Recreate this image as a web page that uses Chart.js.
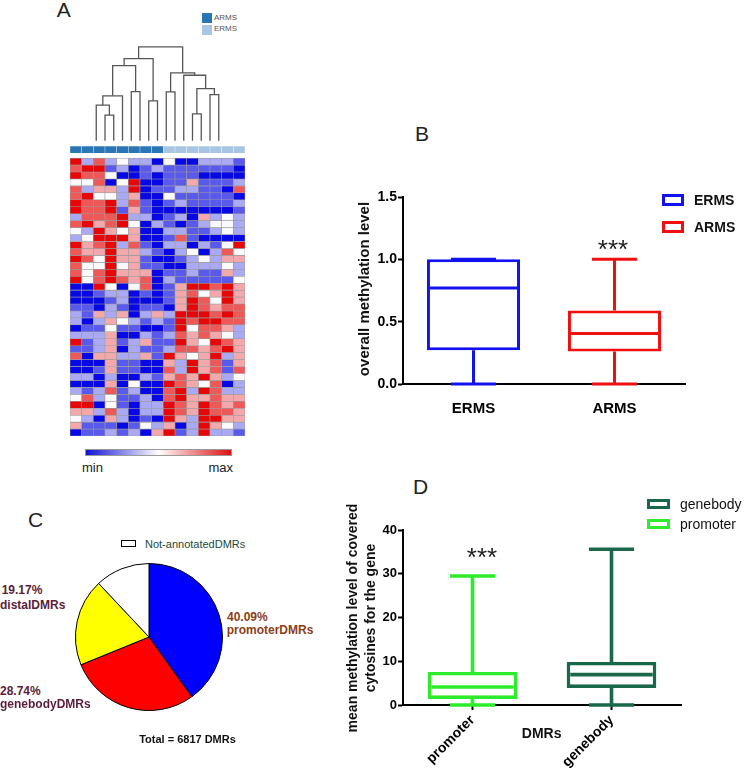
<!DOCTYPE html>
<html>
<head>
<meta charset="utf-8">
<script src="https://cdn.jsdelivr.net/npm/chart.js@4.4.1/dist/chart.umd.min.js"></script>
<style>
body{margin:0;background:#fff;width:745px;height:772px;position:relative;overflow:hidden;font-family:"Liberation Sans",Arial,sans-serif}
canvas{position:absolute}
.t{position:absolute;white-space:nowrap;line-height:1}
.box{position:absolute;box-sizing:border-box;background:#fff}
</style>
</head>
<body>
<canvas id="heat" width="185" height="396" style="left:65px;top:40px"></canvas>
<canvas id="boxB" width="332" height="227" style="left:358px;top:187px"></canvas>
<canvas id="pieC" width="150" height="150" style="left:74px;top:562px"></canvas>
<canvas id="boxD" width="328" height="252" style="left:358px;top:520px"></canvas>
<div class="box" style="left:85px;top:449px;width:147px;height:7px;border:1px solid #999;background:linear-gradient(to right,#1212d2,#ffffff,#de1010)"></div>
<script>
// ---- panel A: heatmap (15 samples x 40 DMRs, -3 = min ... 3 = max) ----
const heatColumns = ['S1','S2','S3','S4','S5','S6','S7','S8','S9','S10','S11','S12','S13','S14','S15'];
const sampleGroups = ['ARMS','ARMS','ARMS','ARMS','ARMS','ARMS','ARMS','ARMS','ERMS','ERMS','ERMS','ERMS','ERMS','ERMS','ERMS'];
const heatRows = [
  [3,-1,2,-1,0,-1,-1,-3,0,-3,-3,-1,-1,-1,-2],
  [2,3,3,-2,-1,-3,-2,-1,-2,-2,-2,-2,-2,-2,-3],
  [3,2,2,0,-3,-3,-2,-3,-2,-2,-2,-3,-3,-3,-3],
  [0,0,2,-3,0,3,-3,-3,-2,-2,1,-2,-2,-2,-1],
  [2,-1,1,1,-1,3,-3,-2,-2,-1,-1,-2,-2,-3,2],
  [2,3,0,0,-1,1,-3,-3,0,-2,-2,-2,-2,-2,-3],
  [3,2,2,3,-1,2,-2,-3,-2,-1,-2,-2,-2,-2,-1],
  [3,2,2,3,-2,1,-2,-3,-3,-3,-3,-3,-3,-3,-2],
  [-1,2,2,2,3,-1,-1,-3,-2,-1,-3,1,-1,0,-1],
  [2,3,1,2,3,0,-3,-1,-2,-3,-2,-1,0,0,-1],
  [0,-1,3,1,0,1,-3,-3,-1,-1,-2,-2,-1,0,-1],
  [-1,0,3,3,3,1,-3,-3,-2,2,-2,-3,-3,-3,-3],
  [3,1,2,3,-1,2,-2,-3,-1,-1,-3,-1,-2,0,3],
  [2,1,1,3,1,1,-1,-2,-3,-1,0,-3,-1,2,0],
  [3,2,0,3,1,1,-2,-3,-3,-2,-1,0,-1,1,1],
  [2,0,0,3,0,1,-2,-2,-3,-3,-1,-1,-1,0,-1],
  [2,0,2,3,1,1,1,-3,-2,-2,-1,-2,-2,1,-1],
  [3,0,2,3,2,1,2,-3,-1,-2,-2,-2,-2,-2,0],
  [-3,-3,3,0,-3,0,2,-3,-2,1,3,3,2,3,1],
  [-3,-3,-2,-1,-1,-3,-2,-3,-2,1,2,0,1,3,1],
  [-3,-3,-3,-2,-1,-3,-3,-3,-2,1,3,2,0,3,1],
  [-2,-2,-3,-1,-2,-3,-2,-2,-3,1,3,2,1,2,2],
  [-1,-2,1,-1,1,-3,-1,1,-1,3,3,3,2,3,2],
  [-1,-3,-1,1,0,-1,-2,-1,-2,3,2,3,3,2,2],
  [-3,-2,-2,0,-2,-2,-3,-3,-2,3,0,2,2,1,-1],
  [-1,-1,-1,1,-3,-3,-1,-2,-1,2,1,2,1,0,-1],
  [3,-2,-1,1,-2,-1,1,-2,-2,3,1,0,3,2,1],
  [-2,-2,-1,1,-3,-1,-2,-2,-1,2,2,1,2,3,1],
  [2,-3,1,1,-1,-1,1,-2,3,1,0,1,3,-1,1],
  [-3,-3,-3,1,-2,-2,-3,-3,1,-1,3,1,2,-2,1],
  [-3,-3,-2,1,-2,-2,-3,-3,2,-1,3,1,2,-2,2],
  [-1,-1,-3,-1,-3,-3,-1,-2,1,2,1,3,1,-1,0],
  [-3,-3,-3,1,-3,0,-3,-3,3,2,1,0,2,-3,-1],
  [-1,-2,-1,2,-2,-1,-3,-3,2,3,-1,3,2,-1,-1],
  [0,2,-1,0,-2,-2,-1,-3,2,3,1,1,2,1,1],
  [3,3,-3,0,-2,-3,-1,-1,3,2,1,3,2,1,2],
  [1,1,-1,2,-1,-3,-1,-1,3,2,1,3,2,2,1],
  [0,-1,-3,1,-1,-3,-2,-3,3,1,-1,3,3,1,1],
  [1,-2,-2,-2,-3,-2,0,-1,1,-3,-1,3,1,0,-1],
  [-3,-2,-2,-1,-2,-1,-3,1,3,-2,-1,3,-1,-1,-2]
];
// dendrogram merges: [nodeA, nodeB, height]; leaves are 0..14, merges numbered 15.. in order
const dendroMerges = [
  [1,2,77],[0,15,107],[16,3,135],[4,5,148],[17,18,226],[6,7,120],[19,20,247],
  [8,9,147],[11,12,81],[13,14,139],[23,24,157],[10,25,197],[22,26,204],[21,27,282]
];

// ---- panel B ----
const boxBCategories = ['ERMS','ARMS'];
const boxBMin = [0, 0];
const boxBQ1 = [0.27, 0.26];
const boxBMedian = [0.77, 0.405];
const boxBQ3 = [1.0, 0.59];
const boxBMax = [1.0, 1.0];
const boxBTicks = [0, 0.5, 1.0, 1.5];

// ---- panel C ----
const pieLabels = ['promoterDMRs','genebodyDMRs','distalDMRs','Not-annotatedDMRs'];
const piePercent = [40.09, 28.74, 19.17, 12.00];
const pieTotal = 6817;

// ---- panel D ----
const boxDCategories = ['promoter','genebody'];
const boxDMin = [0, 0];
const boxDQ1 = [1.4, 3.9];
const boxDMedian = [4.1, 6.95];
const boxDQ3 = [7.55, 9.85];
const boxDMax = [29.5, 35.6];
const boxDTicks = [0, 10, 20, 30, 40];

const FONT = '"Liberation Sans", Arial, sans-serif';

function label(text, x, y, o) {
  o = o || {};
  const d = document.createElement('div');
  d.className = 't';
  d.textContent = text;
  const s = o.size || 14;
  d.style.fontSize = s + 'px';
  d.style.fontWeight = o.weight || 'normal';
  d.style.color = o.color || '#111';
  if (o.spacing) d.style.letterSpacing = o.spacing + 'px';
  d.style.left = x + 'px';
  d.style.top = y + 'px';
  const tx = o.align === 'center' ? '-50%' : o.align === 'right' ? '-100%' : '0';
  d.style.transform = `translate(${tx},-50%)` + (o.rotate ? ` rotate(${o.rotate}deg)` : '');
  document.body.appendChild(d);
  return d;
}
function legendBox(x, y, w, h, color, bw) {
  const d = document.createElement('div');
  d.className = 'box';
  Object.assign(d.style, {left: x + 'px', top: y + 'px', width: w + 'px', height: h + 'px', border: bw + 'px solid ' + color});
  document.body.appendChild(d);
}

Chart.defaults.font.family = FONT;
Chart.defaults.animation = false;
Chart.defaults.responsive = false;
Chart.defaults.events = [];
Chart.defaults.plugins.legend.display = false;
Chart.defaults.plugins.tooltip.enabled = false;

// ---------- A ----------
function heatColor(v) {
  const t = Math.max(-1, Math.min(1, v / 3));
  const w = [250, 250, 252];
  const end = t < 0 ? [8, 8, 228] : [230, 8, 8];
  const a = Math.abs(t);
  return 'rgb(' + w.map((c, i) => Math.round(c + (end[i] - c) * a)).join(',') + ')';
}
const nRows = heatRows.length;
const dendBase = nRows + 2.49, dendTop = nRows + 16;
const heatSets = heatRows.map((row, r) => ({
  type: 'bar',
  data: row.map(() => [nRows - 1 - r, nRows - r]),
  backgroundColor: row.map(heatColor),
  borderColor: '#9c9c9c', borderWidth: 0.6, borderSkipped: false,
  grouped: false, barPercentage: 1, categoryPercentage: 1
}));
heatSets.push({
  type: 'bar',
  data: heatColumns.map(() => [nRows + 0.72, nRows + 1.72]),
  backgroundColor: sampleGroups.map(g => g === 'ARMS' ? '#2a76b4' : '#a8c6e4'),
  borderColor: 'rgba(255,255,255,0.45)', borderWidth: 0.5, borderSkipped: false,
  grouped: false, barPercentage: 1, categoryPercentage: 1
});
const maxH = Math.max(...dendroMerges.map(m => m[2]));
const nodeX = heatColumns.map((c, i) => i), nodeH = heatColumns.map(() => 0);
dendroMerges.forEach(([a, b, h]) => { nodeX.push((nodeX[a] + nodeX[b]) / 2); nodeH.push(h); });
const hy = h => dendBase + h / maxH * (dendTop - dendBase);
dendroMerges.forEach(([a, b, h]) => heatSets.push({
  type: 'scatter', xAxisID: 'xd', showLine: true,
  data: [{x: nodeX[a], y: hy(nodeH[a])}, {x: nodeX[a], y: hy(h)}, {x: nodeX[b], y: hy(h)}, {x: nodeX[b], y: hy(nodeH[b])}],
  borderColor: '#575757', borderWidth: 1.3, pointRadius: 0, tension: 0, fill: false
}));
new Chart(document.getElementById('heat'), {
  type: 'bar',
  data: {labels: heatColumns, datasets: heatSets},
  options: {
    layout: {padding: {left: 5, right: 5, top: 0, bottom: 0}},
    scales: {
      x: {type: 'category', display: false, offset: true},
      xd: {type: 'linear', display: false, min: -0.5, max: heatColumns.length - 0.5},
      y: {display: false, min: 0, max: 57}
    }
  }
});

// ---------- box plots (B, D) ----------
const whiskers = {
  id: 'whiskers',
  afterDatasetsDraw(chart, args, o) {
    const {ctx, scales: {x, y}} = chart;
    const meta = chart.getDatasetMeta(0);
    const slot = x.width / o.mins.length;
    ctx.save();
    ctx.lineWidth = o.lineWidth;
    o.mins.forEach((mn, i) => {
      const cx = x.getPixelForValue(i);
      const half = meta.data[i].width / 2;
      const cap = slot * o.capFrac / 2;
      const yMax = y.getPixelForValue(o.maxs[i]), yMin = y.getPixelForValue(mn);
      const yMed = y.getPixelForValue(o.meds[i]);
      ctx.strokeStyle = o.colors[i];
      ctx.beginPath();
      ctx.moveTo(cx, y.getPixelForValue(o.q3s[i])); ctx.lineTo(cx, yMax);
      ctx.moveTo(cx, y.getPixelForValue(o.q1s[i])); ctx.lineTo(cx, yMin);
      ctx.moveTo(cx - cap, yMax); ctx.lineTo(cx + cap, yMax);
      ctx.moveTo(cx - cap, yMin); ctx.lineTo(cx + cap, yMin);
      ctx.moveTo(cx - half + o.lineWidth, yMed); ctx.lineTo(cx + half - o.lineWidth, yMed);
      ctx.stroke();
    });
    ctx.restore();
  }
};

const axisLine = {color: '#000', width: 2};
const tickGrid = {drawOnChartArea: false, tickLength: 5, tickWidth: 2, tickColor: '#000'};

new Chart(document.getElementById('boxB'), {
  type: 'bar',
  data: {labels: boxBCategories, datasets: [{
    data: boxBQ1.map((q, i) => [q, boxBQ3[i]]),
    backgroundColor: '#fff', borderColor: ['rgb(18,18,240)', 'rgb(240,16,16)'],
    borderWidth: 3, borderSkipped: false, barPercentage: 0.66, categoryPercentage: 1
  }]},
  options: {
    layout: {padding: {top: 10, right: 5, left: 0, bottom: 0}},
    plugins: {whiskers: {mins: boxBMin, q1s: boxBQ1, meds: boxBMedian, q3s: boxBQ3, maxs: boxBMax,
      colors: ['rgb(18,18,240)', 'rgb(240,16,16)'], lineWidth: 3, capFrac: 0.32}},
    scales: {
      x: {grid: {display: false}, border: axisLine,
        ticks: {color: '#000', padding: 8, font: {size: 15, weight: 'bold'}},
        afterFit(s) { s.height = 30; }},
      y: {min: 0, max: 1.5, grid: tickGrid, border: axisLine,
        afterBuildTicks(s) { s.ticks = boxBTicks.map(v => ({value: v})); },
        ticks: {color: '#000', padding: 1, font: {size: 14, weight: 'bold'}, callback: v => v.toFixed(1)},
        afterFit(s) { s.width = 45; }}
    }
  },
  plugins: [whiskers]
});

new Chart(document.getElementById('boxD'), {
  type: 'bar',
  data: {labels: boxDCategories, datasets: [{
    data: boxDQ1.map((q, i) => [q, boxDQ3[i]]),
    backgroundColor: '#fff', borderColor: ['rgb(44,236,44)', 'rgb(26,104,74)'],
    borderWidth: 3.6, borderSkipped: false, barPercentage: 0.645, categoryPercentage: 1
  }]},
  options: {
    layout: {padding: {top: 10, right: 5, left: 0, bottom: 0}},
    plugins: {whiskers: {mins: boxDMin, q1s: boxDQ1, meds: boxDMedian, q3s: boxDQ3, maxs: boxDMax,
      colors: ['rgb(44,236,44)', 'rgb(26,104,74)'], lineWidth: 3.6, capFrac: 0.325}},
    scales: {
      x: {grid: Object.assign({offset: false}, tickGrid), border: axisLine,
        ticks: {color: '#000', padding: 2, minRotation: 45, maxRotation: 45, font: {size: 14, weight: 'bold'}},
        afterFit(s) { s.height = 67; }},
      y: {min: 0, max: 40, grid: tickGrid, border: axisLine,
        afterBuildTicks(s) { s.ticks = boxDTicks.map(v => ({value: v})); },
        ticks: {color: '#000', padding: 1, font: {size: 13, weight: 'bold'}},
        afterFit(s) { s.width = 45; }}
    }
  },
  plugins: [whiskers]
});

// ---------- C ----------
new Chart(document.getElementById('pieC'), {
  type: 'pie',
  data: {labels: pieLabels, datasets: [{
    data: piePercent,
    backgroundColor: ['#0000ff', '#ff0000', '#ffff00', '#ffffff'],
    borderColor: '#000', borderWidth: 1
  }]},
  options: {layout: {padding: 1}}
});

// ---------- texts ----------
label('A', 56.7, 9.2, {size: 21, color: '#222'});
label('B', 415, 132.5, {size: 21, color: '#222'});
label('C', 28, 518.5, {size: 21, color: '#222'});
label('D', 413, 485.8, {size: 21, color: '#222'});

legendBox(201.7, 13.3, 9, 8.4, '#2a76b4', 5);
legendBox(201.7, 25, 9, 8.4, '#a8c6e4', 5);
label('ARMS', 214, 17.5, {size: 8, color: '#555'});
label('ERMS', 214, 29, {size: 8, color: '#555'});
label('min', 82, 467, {size: 13, color: '#222'});
label('max', 233, 467, {size: 13, color: '#222', align: 'right'});

legendBox(662, 194, 22, 12, 'rgb(18,18,240)', 3);
legendBox(662, 221, 22, 12, 'rgb(240,16,16)', 3);
label(boxBCategories[0], 694, 200, {size: 14, weight: 'bold'});
label(boxBCategories[1], 694, 227, {size: 14, weight: 'bold'});
label('overall methylation level', 363, 289.2, {size: 15, weight: 'bold', align: 'center', rotate: -90});
label('***', 613, 248.5, {size: 26, color: '#222', align: 'center'});

legendBox(121, 540, 15, 7, '#000', 1.3);
label(pieLabels[3], 145, 544, {size: 11, color: '#1d4a3a'});
label(piePercent[2].toFixed(2) + '%', 1.7, 590.3, {size: 12, weight: 'bold', color: '#5a1e3c'});
label(pieLabels[2], 0, 605, {size: 12, weight: 'bold', color: '#5a1e3c'});
label(piePercent[0].toFixed(2) + '%', 227, 616.7, {size: 12, weight: 'bold', color: '#8b3e16'});
label(pieLabels[0], 226.7, 630, {size: 12, weight: 'bold', color: '#8b3e16'});
label(piePercent[1].toFixed(2) + '%', 0, 691, {size: 12, weight: 'bold', color: '#5a1e3c'});
label(pieLabels[1], 0, 704, {size: 12, weight: 'bold', color: '#5a1e3c'});
label('Total = ' + pieTotal + ' DMRs', 187.5, 739.3, {size: 11, weight: 'bold', color: '#111', align: 'center'});

legendBox(647, 499.3, 23, 9.5, 'rgb(26,104,74)', 3.4);
legendBox(647, 519.3, 23, 9.5, 'rgb(44,236,44)', 3.4);
label('genebody', 680, 504, {size: 14});
label('promoter', 680, 524, {size: 14});
label('mean methylation level of covered', 352, 618, {size: 14, weight: 'bold', align: 'center', rotate: -90});
label('cytosines for the gene', 369.5, 618, {size: 14, weight: 'bold', align: 'center', rotate: -90});
label('***', 482, 557, {size: 26, color: '#222', align: 'center'});
label('DMRs', 541.7, 733, {size: 14, weight: 'bold', align: 'center'});
</script>
</body>
</html>
